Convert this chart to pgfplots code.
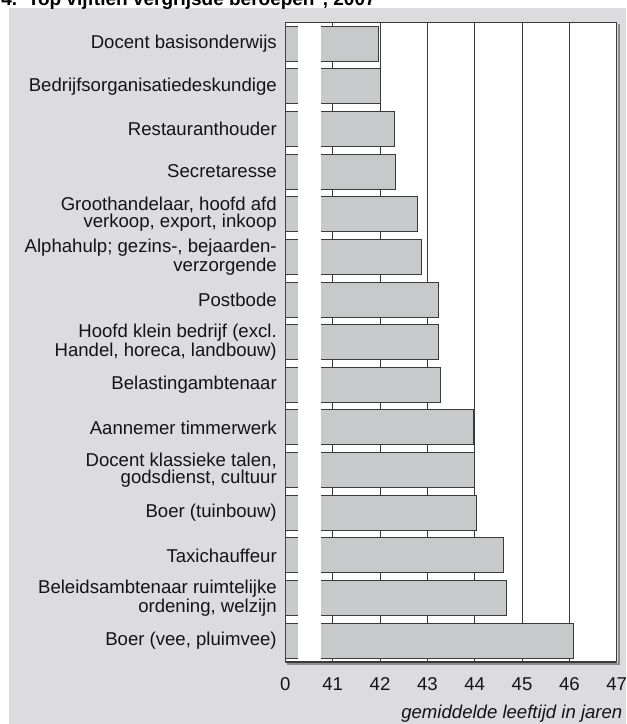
\documentclass[border=0pt]{standalone}
\usepackage{fontspec}
\setmainfont{Liberation Sans}
\usepackage{pgfplots}
\pgfplotsset{compat=1.18}
\definecolor{bg}{HTML}{DCDCDE}
\definecolor{barfill}{HTML}{C8C9CB}
\definecolor{edge}{HTML}{3A3A3A}
\begin{document}
\begin{tikzpicture}
\useasboundingbox (-171.24pt,-37.2pt) rectangle (204.36pt,397.2pt);
\fill[bg] (-165.8pt,-37.2pt) rectangle (204.36pt,392.4pt);
\node[anchor=base west, font=\fontsize{11.4}{13}\selectfont\bfseries, inner sep=0pt] at (-170.6pt,393.6pt) {4.\ \ Top vijftien vergrijsde beroepen\textsuperscript{1}, 2007};
\draw[black!45, line width=1.2pt] (199.9pt,382.5pt) -- (199.9pt,-1.0pt) -- (1pt,-1.0pt);
\begin{axis}[at={(0,0)}, anchor=south west, scale only axis,
  width=198.8pt, height=383.8pt,
  xbar, bar width=0.82,
  xmin=40, xmax=47, ymin=-0.5, ymax=14.5, y dir=reverse,
  xtick={40,...,47}, xticklabels={0,41,42,43,44,45,46,47},
  ytick={0,...,14},
  yticklabels={{Docent basisonderwijs},{Bedrijfsorganisatiedeskundige},{Restauranthouder},{Secretaresse},{Groothandelaar, hoofd afd\\verkoop, export, inkoop},{Alphahulp; gezins-, bejaarden-\\verzorgende},{Postbode},{Hoofd klein bedrijf (excl.\\Handel, horeca, landbouw)},{Belastingambtenaar},{Aannemer timmerwerk},{Docent klassieke talen,\\godsdienst, cultuur},{Boer (tuinbouw)},{Taxichauffeur},{Beleidsambtenaar ruimtelijke\\ordening, welzijn},{Boer (vee, pluimvee)}},
  major tick length=0pt,
  xmajorgrids, major grid style={draw=edge, line width=0.6pt},
  axis line style={draw=none},
  axis background/.style={fill=white},
  /pgf/number format/assume math mode=true,
  tick label style={font=\fontsize{11.15}{9.9}\selectfont, text=black!92},
  xticklabel style={anchor=base, yshift=-17.2pt},
  yticklabel style={anchor=east, align=right, inner sep=0pt, xshift=-5pt},
]
\addplot[fill=barfill, draw=edge, line width=0.6pt] coordinates {
(41.97,0) (42.00,1) (42.30,2) (42.32,3) (42.79,4) (42.88,5) (43.23,6) (43.24,7)
(43.27,8) (43.97,9) (44.00,10) (44.03,11) (44.60,12) (44.68,13) (46.08,14)};
\fill[white] (axis cs:40.27,-0.5) rectangle (axis cs:40.75,14.5);
\draw[edge, line width=0.9pt] (rel axis cs:0,0) rectangle (rel axis cs:1,1);
\end{axis}
\node[anchor=base east, font=\fontsize{11.15}{13}\selectfont\itshape, inner sep=0pt, text=black!92] at (202.4pt,-33.8pt) {gemiddelde leeftijd in jaren};
\end{tikzpicture}
\end{document}
